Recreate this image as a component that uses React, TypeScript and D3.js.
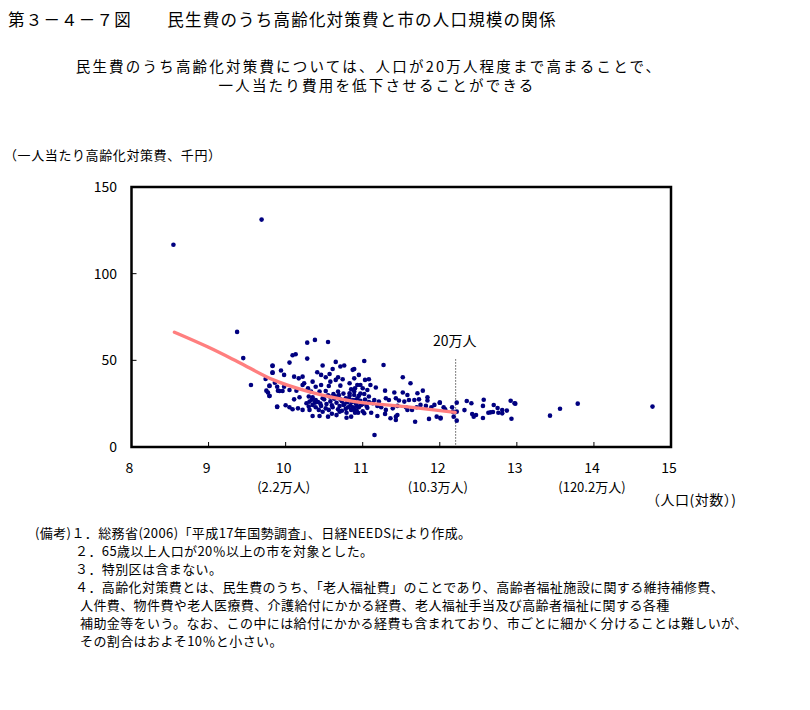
import React from "react";
import * as d3 from "d3";

const titleText = "第３－４－７図　　民生費のうち高齢化対策費と市の人口規模の関係";
const subtitleLines = [
  "民生費のうち高齢化対策費については、人口が20万人程度まで高まることで、",
  "一人当たり費用を低下させることができる",
];
const yAxisTitle = "（一人当たり高齢化対策費、千円）";
const xAxisTitle = "（人口(対数）)";
const xTicks = [8, 9, 10, 11, 12, 13, 14, 15];
const yTicks = [0, 50, 100, 150];
const xSubLabels: [number, string][] = [
  [10, "(2.2万人)"],
  [12, "(10.3万人)"],
  [14, "(120.2万人)"],
];
const refX = 12.206;
const refLabel = "20万人";
const refTop = 50.5;

// scatter: x = log(population), y = per-capita cost (thousand yen)
const pointsX = [
  8.544, 9.688, 9.37, 9.45, 9.55, 9.83, 9.83, 9.74, 9.79, 9.75, 9.77, 9.79, 9.86, 9.9, 9.89,
  10.28, 10.38, 10.55, 10.09, 10.13, 10.28, 10.05, 9.83, 10.48, 10.65, 10.71, 10.76, 9.83, 9.94, 9.98,
  10.41, 10.46, 10.57, 10.61, 10.87, 10.11, 10.17, 10.22, 10.24, 10.35, 10.52, 10.58, 10.65, 10.68, 10.74,
  10.83, 10.89, 10.93, 9.79, 9.89, 9.98, 10.22, 10.29, 10.39, 10.46, 10.56, 10.71, 10.85, 9.92, 9.96,
  10.05, 10.14, 10.33, 10.44, 10.52, 10.68, 10.83, 10.89, 9.79, 10.11, 10.18, 10.3, 10.35, 10.39, 10.48,
  10.57, 10.65, 10.71, 10.78, 10.87, 10.93, 9.89, 10.0, 10.05, 10.09, 10.16, 10.22, 10.3, 10.35, 10.39,
  10.46, 10.52, 10.61, 10.68, 10.75, 10.81, 10.87, 10.92, 10.27, 10.31, 10.43, 10.56, 10.7, 10.79, 10.85,
  10.9, 10.35, 10.44, 10.55, 10.79, 10.85,
  11.02, 11.27, 10.89, 10.95, 11.03, 11.08, 11.1, 10.97, 10.9, 11.0, 11.06, 11.17, 11.29, 11.41, 11.52,
  11.62, 11.52, 11.58, 11.71, 11.78, 11.84, 11.84, 12.0, 10.89, 10.95, 11.02, 11.08, 11.15, 11.21, 11.3,
  11.34, 11.43, 11.47, 11.54, 11.6, 11.67, 11.73, 11.75, 11.93, 10.91, 10.98, 11.05, 11.13, 11.19, 11.24,
  11.3, 11.39, 11.45, 11.56, 11.64, 11.7, 11.82, 11.89, 10.89, 10.94, 11.02, 11.11, 11.19, 11.29, 11.36,
  11.43, 11.43, 11.45, 11.58, 11.68, 11.86, 11.96, 12.01, 11.153,
  12.0, 12.05, 12.07, 12.16, 12.17, 12.01, 12.18, 12.22, 12.22, 12.22, 12.32, 12.35, 12.41, 12.42, 12.47,
  12.44, 12.56, 12.57, 12.56, 12.63, 12.66, 12.69, 12.7, 12.75, 12.76, 12.81, 12.81, 12.87, 12.92, 12.97,
  12.93, 12.98, 13.43, 13.56, 13.79, 14.76,
  10.42, 10.45, 10.5, 10.53, 10.58, 10.6, 10.63, 10.66, 10.7, 10.73, 10.76, 10.78, 10.8, 10.82, 10.84,
  10.86, 10.88, 10.9, 10.92, 10.95, 10.97, 11.0, 11.03, 11.06, 11.08, 10.38, 10.34, 10.31, 10.55, 10.62,
  10.69, 10.75, 10.83, 10.97, 10.48, 10.6, 10.73, 10.92, 11.0, 10.66,
];
const pointsY = [
  116.7, 131.2, 66.4, 51.3, 35.8, 46.7, 42.9, 39.2, 35.2, 32.5, 31.4, 29.4, 37.1, 32.5, 23.1,
  60.2, 61.8, 60.6, 52.9, 53.5, 51.0, 48.7, 47.0, 47.0, 49.1, 46.4, 47.0, 42.9, 44.1, 41.6,
  43.1, 41.6, 42.1, 45.0, 44.5, 40.6, 39.6, 40.6, 36.8, 37.7, 40.2, 37.7, 38.7, 40.2, 39.1,
  36.8, 39.6, 35.8, 35.4, 34.8, 34.8, 35.8, 33.9, 34.8, 35.8, 35.2, 35.4, 33.3, 32.3, 32.3,
  32.9, 32.5, 32.0, 32.0, 32.3, 32.0, 31.0, 32.0, 29.5, 27.5, 28.7, 29.1, 28.7, 27.1, 28.1,
  29.1, 29.1, 27.5, 28.1, 27.1, 28.1, 23.3, 24.1, 22.9, 21.8, 22.3, 21.4, 23.3, 24.3, 22.9,
  23.7, 22.3, 22.9, 21.8, 24.3, 22.9, 22.9, 23.7, 25.2, 21.4, 21.4, 21.4, 20.4, 19.8, 21.4,
  19.8, 17.9, 17.9, 17.5, 16.9, 17.5,
  49.6, 47.3, 45.0, 41.6, 38.7, 39.1, 35.8, 35.8, 33.9, 33.9, 32.9, 34.3, 32.5, 31.4, 40.2,
  36.8, 31.4, 30.0, 31.0, 32.5, 28.7, 26.8, 25.6, 30.0, 29.5, 30.6, 29.1, 27.1, 26.2, 28.1,
  27.1, 28.1, 26.8, 26.2, 27.1, 27.1, 27.5, 24.3, 24.3, 25.2, 24.3, 23.7, 25.2, 23.7, 22.9,
  21.4, 22.3, 23.7, 22.9, 21.4, 22.9, 23.7, 22.9, 21.4, 19.8, 19.5, 19.8, 17.9, 19.1, 16.6,
  17.5, 15.6, 18.5, 21.4, 14.6, 16.2, 17.5, 16.9, 6.9,
  25.6, 22.9, 21.7, 22.9, 20.4, 16.5, 17.5, 25.6, 20.4, 15.2, 21.3, 26.5, 25.2, 19.0, 18.5,
  17.5, 23.7, 27.3, 16.7, 19.8, 20.0, 20.2, 24.2, 22.5, 19.8, 21.3, 19.4, 21.0, 26.7, 25.2,
  16.3, 25.0, 18.1, 22.1, 25.0, 23.3,
  26.0, 25.0, 27.5, 24.8, 26.3, 24.0, 27.8, 25.5, 23.6, 26.4, 24.6, 22.0, 25.8, 27.9, 24.0,
  26.0, 22.5, 27.0, 25.0, 23.0, 26.6, 24.8, 27.4, 22.6, 25.9, 25.6, 27.3, 26.2, 29.8, 30.5,
  29.9, 30.8, 29.6, 30.9, 20.3, 19.2, 20.9, 21.2, 20.6, 18.4,
];

// fitted trend
const trendX = [8.557, 9.0, 9.378, 9.841, 10.3, 10.86, 11.556, 12.2];
const trendY = [66.2, 57.5, 49.2, 38.7, 31.9, 26.5, 23.3, 20.0];

const notes: [number, string][] = [
  [35, "(備考)１．総務省(2006)「平成17年国勢調査」、日経NEEDSにより作成。"],
  [75, "２．65歳以上人口が20％以上の市を対象とした。"],
  [75, "３．特別区は含まない。"],
  [75, "４．高齢化対策費とは、民生費のうち、「老人福祉費」のことであり、高齢者福祉施設に関する維持補修費、"],
  [80, "人件費、物件費や老人医療費、介護給付にかかる経費、老人福祉手当及び高齢者福祉に関する各種"],
  [80, "補助金等をいう。なお、この中には給付にかかる経費も含まれており、市ごとに細かく分けることは難しいが、"],
  [80, "その割合はおよそ10％と小さい。"],
];

const FONT = "'Noto Sans CJK JP', 'Noto Sans', sans-serif";

export default function App() {
  const W = 810;
  const H = 710;
  const x = d3.scaleLinear().domain([8, 15]).range([131.5, 671]);
  const y = d3.scaleLinear().domain([0, 150]).range([447, 187]);
  const line = d3
    .line<number>()
    .x((_, i) => x(trendX[i]))
    .y((d) => y(d))
    .curve(d3.curveMonotoneX);

  return (
    <div style={{ position: "absolute", left: 0, top: 0 }}>
      <svg width={W} height={H} style={{ display: "block", background: "#fff" }}>
        <rect x={0} y={0} width={W} height={H} fill="#fff" />
        <text x={8} y={26} fontFamily={FONT} fontSize={16.5} letterSpacing={1.2} fill="#000">
          {titleText}
        </text>
        {subtitleLines.map((t, i) => (
          <text
            key={i}
            x={369 + i * 8}
            y={72 + i * 19}
            textAnchor="middle"
            fontFamily={FONT}
            fontSize={14.5}
            letterSpacing={2.2}
            fill="#000"
          >
            {t}
          </text>
        ))}
        <text x={4} y={160} fontFamily={FONT} fontSize={13} letterSpacing={0.6} fill="#000">
          {yAxisTitle}
        </text>

        {/* plot frame */}
        <rect
          x={x(8)}
          y={y(150)}
          width={x(15) - x(8)}
          height={y(0) - y(150)}
          fill="none"
          stroke="#000"
          strokeWidth={2.5}
        />
        {xTicks.slice(1, -1).map((t) => (
          <line key={t} x1={x(t)} x2={x(t)} y1={y(0)} y2={y(0) - 5} stroke="#000" strokeWidth={1} />
        ))}
        {yTicks.slice(1, -1).map((t) => (
          <line key={t} x1={x(8)} x2={x(8) + 5} y1={y(t)} y2={y(t)} stroke="#000" strokeWidth={1} />
        ))}
        {yTicks.map((t) => (
          <text
            key={t}
            x={117}
            y={y(t) + 5}
            textAnchor="end"
            fontFamily={FONT}
            fontSize={14}
            fill="#000"
          >
            {t}
          </text>
        ))}
        {xTicks.map((t) => (
          <text
            key={t}
            x={x(t) - 2}
            y={473}
            textAnchor="middle"
            fontFamily={FONT}
            fontSize={14}
            fill="#000"
          >
            {t}
          </text>
        ))}
        {xSubLabels.map(([v, s]) => (
          <text
            key={v}
            x={x(v) - 2}
            y={492}
            textAnchor="middle"
            fontFamily={FONT}
            fontSize={13}
            fill="#000"
          >
            {s}
          </text>
        ))}
        <text x={646} y={505} fontFamily={FONT} fontSize={14} letterSpacing={0.5} fill="#000">
          {xAxisTitle}
        </text>

        {/* reference line at 200k */}
        <line
          x1={x(refX)}
          x2={x(refX)}
          y1={y(refTop)}
          y2={y(0)}
          stroke="#000"
          strokeWidth={1}
          strokeDasharray="1,2"
        />
        <text x={x(refX) - 1} y={346} textAnchor="middle" fontFamily={FONT} fontSize={14} fill="#000">
          {refLabel}
        </text>

        {/* points */}
        {pointsX.map((px, i) => (
          <circle key={i} cx={x(px)} cy={y(pointsY[i])} r={2.3} fill="#000080" />
        ))}

        {/* trend */}
        <path d={line(trendY) || ""} fill="none" stroke="#FF7F7F" strokeWidth={3.4} strokeLinecap="round" />

        {notes.map(([nx, t], i) => (
          <text key={i} x={nx} y={538 + i * 18} fontFamily={FONT} fontSize={13} letterSpacing={0.4} fill="#000">
            {t}
          </text>
        ))}
      </svg>
    </div>
  );
}
